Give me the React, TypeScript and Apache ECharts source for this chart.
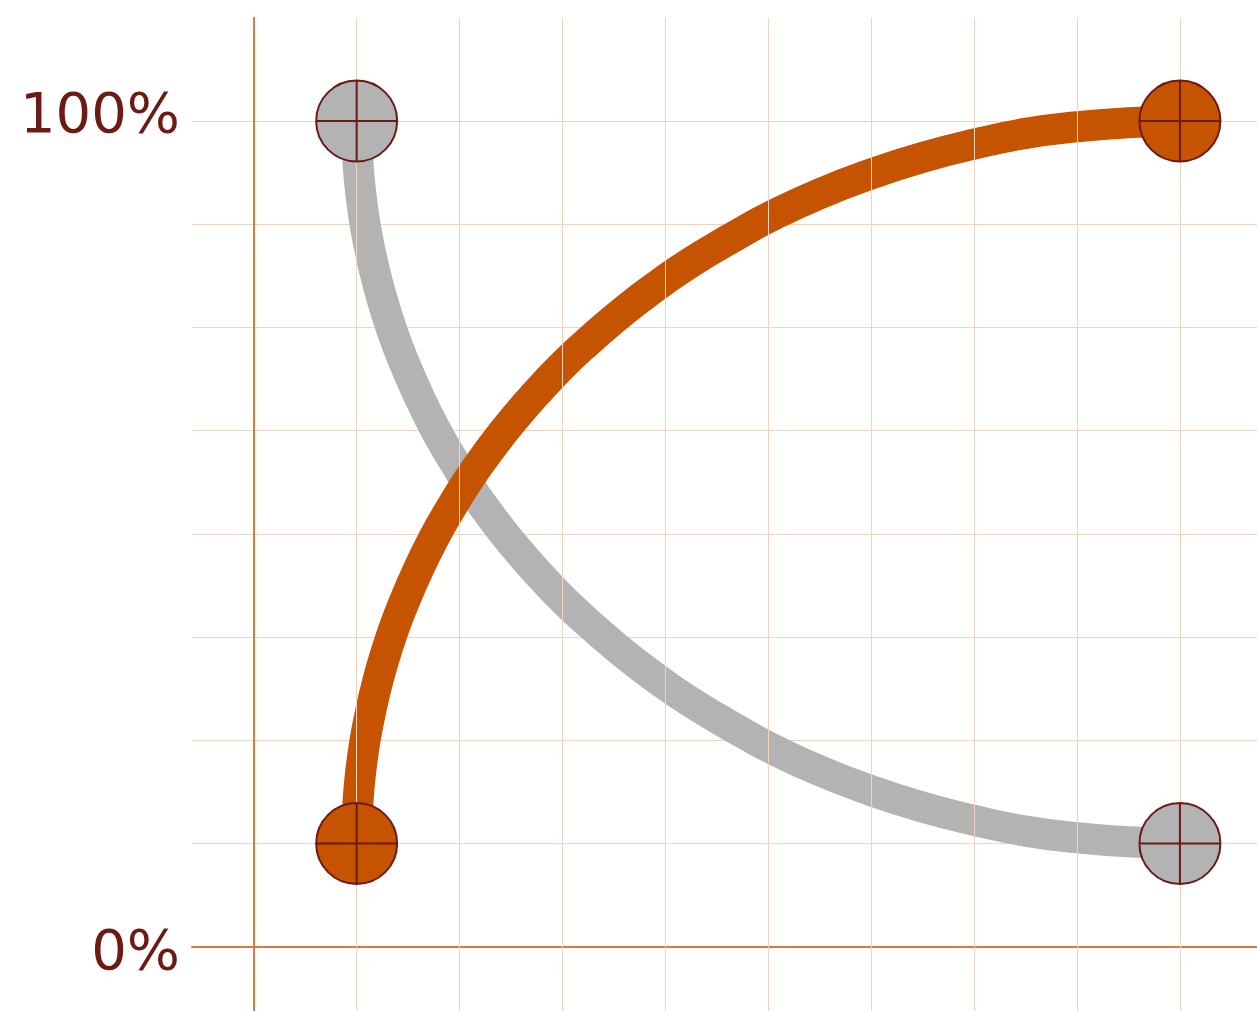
import React, { useEffect, useRef } from "react";
import * as echarts from "echarts";

// Vertical grid positions (x units)
const xGridValues = [1, 2, 3, 4, 5, 6, 7, 8, 9];

// Orange curve: rises from bottom-left to top-right
const orangeX = [1, 1.01, 1.03, 1.06, 1.1, 1.17, 1.25, 1.35, 1.45, 1.6, 1.75, 1.9, 2.1, 2.3, 2.5, 2.75, 3, 3.25, 3.5, 3.75, 4, 4.25, 4.5, 4.75, 5, 5.5, 6, 6.5, 7, 7.5, 8, 8.5, 9];
const orangeY = [12.5, 16.9, 20.1, 23.2, 26.3, 30.4, 34.2, 38.1, 41.4, 45.7, 49.5, 52.8, 56.8, 60.3, 63.5, 67.1, 70.4, 73.3, 76.0, 78.5, 80.8, 82.9, 84.8, 86.6, 88.3, 91.2, 93.6, 95.6, 97.2, 98.5, 99.3, 99.8, 100];

// Grey curve: falls from top-left to bottom-right
const greyX = [1, 1.01, 1.03, 1.06, 1.1, 1.17, 1.25, 1.35, 1.45, 1.6, 1.75, 1.9, 2.1, 2.3, 2.5, 2.75, 3, 3.25, 3.5, 3.75, 4, 4.25, 4.5, 4.75, 5, 5.5, 6, 6.5, 7, 7.5, 8, 8.5, 9];
const greyY = [100, 95.6, 92.4, 89.3, 86.2, 82.1, 78.3, 74.4, 71.1, 66.8, 63, 59.7, 55.7, 52.2, 49, 45.4, 42.1, 39.2, 36.5, 34, 31.7, 29.6, 27.7, 25.9, 24.2, 21.3, 18.9, 16.9, 15.3, 14, 13.2, 12.7, 12.5];

// Y tick labels
const yLabelValues = [0, 100];
const yLabelTexts = ["0%", "100%"];

const ORANGE = "#c65300";
const GREY = "#b3b3b3";
const DARK = "#6b1a14";
const GRID = "#f2d3c1";
const AXIS = "#da7a3c";

const MARKER =
  "path://M40,0A40,40,0,1,1,40,80A40,40,0,1,1,40,0ZM0,40L80,40M40,0L40,80";

export default function App() {
  const ref = useRef<HTMLDivElement>(null);

  useEffect(() => {
    if (!ref.current) return;
    const chart = echarts.init(ref.current, null, { renderer: "svg" });

    const orangeData = orangeX.map((x, i) => [x, orangeY[i]]);
    const greyData = greyX.map((x, i) => [x, greyY[i]]);
    const ends = (d: number[][]) => [d[0], d[d.length - 1]];

    const option = {
      animation: false,
      backgroundColor: "#ffffff",
      grid: {
        left: 192,
        right: 0,
        top: 17.8,
        bottom: -38.9,
        containLabel: false,
        outerBoundsMode: "none",
      },
      xAxis: {
        type: "value",
        min: -0.6,
        max: 9.749,
        axisLine: { show: true, onZero: true, lineStyle: { color: AXIS, width: 2 } },
        axisTick: { show: false },
        axisLabel: { show: false },
        splitLine: { show: false },
      },
      yAxis: {
        type: "value",
        min: -12.5,
        max: 112.5,
        interval: 12.5,
        axisLine: { show: true, onZero: true, lineStyle: { color: AXIS, width: 2 } },
        axisTick: { show: false },
        axisLabel: {
          show: true,
          margin: 12,
          formatter: (v: number) => {
            const i = yLabelValues.indexOf(v);
            if (i < 0) return "";
            return v === 100 ? "{t|" + yLabelTexts[i] + "}" : "{b|" + yLabelTexts[i] + "}";
          },
          rich: {
            t: { fontFamily: "DejaVu Sans", fontSize: 56, color: DARK, padding: [0, 0, 18, 0] },
            b: { fontFamily: "DejaVu Sans", fontSize: 56, color: DARK, padding: [6, 0, 0, 0] },
          },
          fontFamily: "DejaVu Sans",
          fontSize: 56,
          color: DARK,
        },
        splitLine: { show: true, showMaxLine: false, lineStyle: { color: GRID, width: 1 } },
      },
      series: [
        {
          type: "line",
          data: [],
          z: 1,
          silent: true,
          markLine: {
            silent: true,
            symbol: ["none", "none"],
            label: { show: false },
            lineStyle: { color: GRID, width: 1, type: "solid" },
            data: xGridValues.map((v) => ({ xAxis: v })),
          },
        },
        {
          type: "line",
          data: greyData,
          smooth: 0.5,
          showSymbol: false,
          z: 3,
          lineStyle: { color: GREY, width: 31, join: "round" },
          silent: true,
        },
        {
          type: "line",
          data: orangeData,
          smooth: 0.5,
          showSymbol: false,
          z: 4,
          lineStyle: { color: ORANGE, width: 31, join: "round" },
          silent: true,
        },
        {
          type: "scatter",
          data: ends(greyData),
          symbol: MARKER,
          symbolSize: 81,
          z: 5,
          itemStyle: { color: GREY, borderColor: DARK, borderWidth: 2, opacity: 1 },
          silent: true,
        },
        {
          type: "scatter",
          data: ends(orangeData),
          symbol: MARKER,
          symbolSize: 81,
          z: 5,
          itemStyle: { color: ORANGE, borderColor: DARK, borderWidth: 2, opacity: 1 },
          silent: true,
        },
      ],
    };

    chart.setOption(option as any);
    return () => chart.dispose();
  }, []);

  return (
    <div
      ref={ref}
      style={{ position: "absolute", left: 0, top: 0, width: 1257, height: 1011, overflow: "hidden", background: "#fff" }}
    />
  );
}
